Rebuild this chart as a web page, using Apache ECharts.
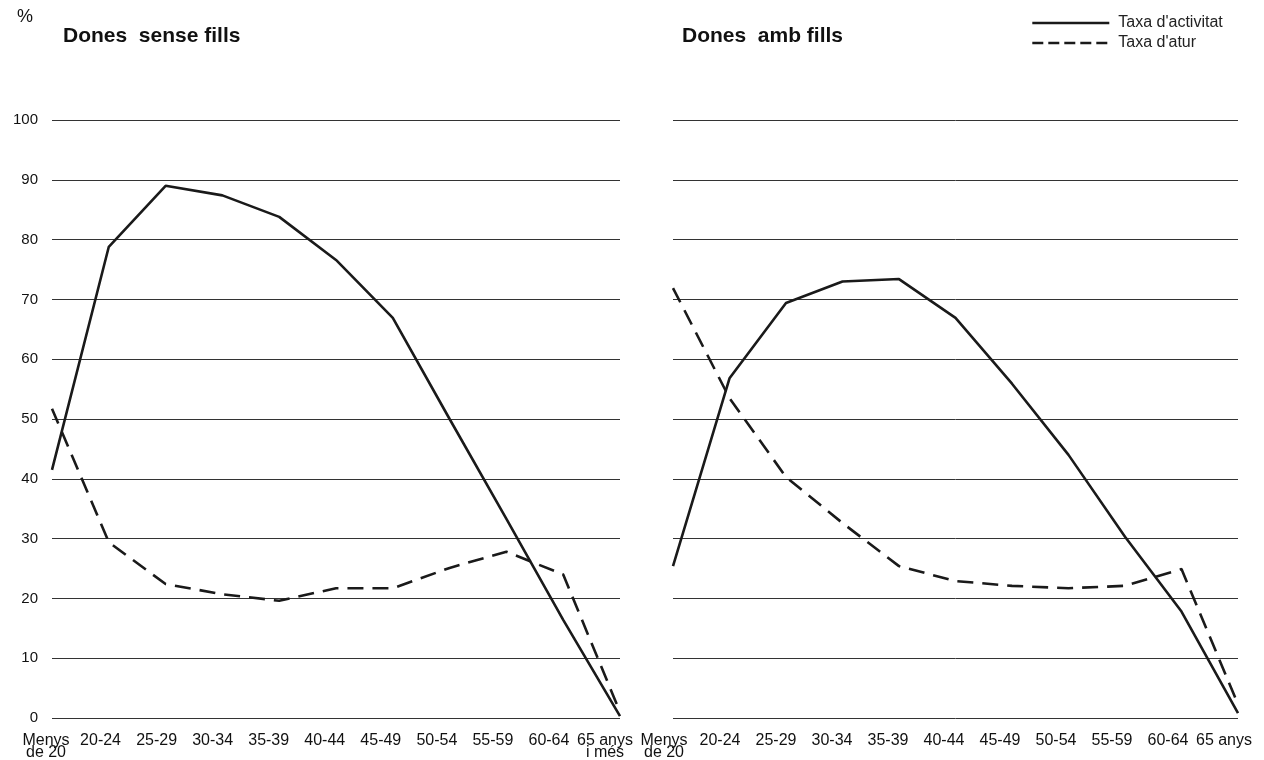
<!DOCTYPE html>
<html><head><meta charset="utf-8">
<script src="https://cdn.jsdelivr.net/npm/echarts@6/dist/echarts.min.js"></script>
<style>html,body{margin:0;padding:0;background:#fff;overflow:hidden}#c{width:1264px;height:760px}</style>
</head><body><div id="c"></div>
<script>
const catsLeft = ['Menys\nde 20','20-24','25-29','30-34','35-39','40-44','45-49','50-54','55-59','60-64','65 anys\ni més'];
const catsRight = ['Menys\nde 20','20-24','25-29','30-34','35-39','40-44','45-49','50-54','55-59','60-64','65 anys'];
const yTicks = [0,10,20,30,40,50,60,70,80,90,100];
const senseActivitat = [41.5,78.8,89.0,87.4,83.8,76.6,66.9,50.0,33.3,16.4,0.3];
const senseAtur = [51.7,29.4,22.4,20.7,19.6,21.7,21.7,25.1,27.8,24.0,1.0];
const ambActivitat = [25.4,56.8,69.4,73.0,73.4,66.9,55.9,44.0,30.3,17.8,0.8];
const ambAtur = [71.9,53.5,40.3,32.6,25.4,22.9,22.1,21.7,22.1,24.9,2.3];
const seriesNames = ["Taxa d'activitat","Taxa d'atur"];

const FONT = '"Liberation Sans", Arial, sans-serif';
const INK = '#1a1a1a';
const chart = echarts.init(document.getElementById('c'), null, {renderer:'canvas'});

// label horizontal offsets (px, negative = left of the data point), layout only
const offLeft = i => i === 0 ? -6 : -7.5 - 0.75 * i;
const offRight = i => -9 - 0.5 * i;
function makeRich(offFn, n) {
  const rich = {};
  for (let i = 0; i < n; i++) {
    rich['p' + i] = {fontSize:16, fontFamily:FONT, color:'#111', lineHeight:12,
                     padding:[0, Math.max(0, -2 * offFn(i)), 0, 0]};
  }
  return rich;
}
function makeXAxis(grid, cats, offFn) {
  return {
    gridIndex:grid, type:'category', boundaryGap:false, data:cats,
    axisLine:{show:false}, axisTick:{show:false},
    axisLabel:{
      interval:0, margin:17, fontSize:16, fontFamily:FONT, color:'#111', lineHeight:12,
      formatter:(v, i) => v.split('\n').map(s => '{p' + i + '|' + s + '}').join('\n'),
      rich:makeRich(offFn, cats.length)
    }
  };
}
const yAxisCommon = {
  type:'value', min:0, max:100, interval:10,
  axisLine:{show:false}, axisTick:{show:false},
  splitLine:{lineStyle:{color:'#333', width:1}}
};
const lineS = (name, data, idx, dashed) => ({
  name, type:'line', xAxisIndex:idx, yAxisIndex:idx, data, symbol:'none', silent:true,
  lineStyle:{color:INK, width:2.6, type: dashed ? [16,9] : 'solid'},
  itemStyle:{color:INK}
});
chart.setOption({
  animation:false,
  title:[
    {text:'%', left:17, top:8, padding:0, textStyle:{fontSize:18, fontWeight:'normal', color:'#111', fontFamily:FONT}},
    {text:'Dones  sense fills', left:63, top:26, padding:0, textStyle:{fontSize:21, fontWeight:'bold', color:'#111', fontFamily:FONT}},
    {text:'Dones  amb fills', left:682, top:26, padding:0, textStyle:{fontSize:21, fontWeight:'bold', color:'#111', fontFamily:FONT}}
  ],
  legend:{
    data:[
      {name:seriesNames[0], lineStyle:{type:'solid', width:2.6}},
      {name:seriesNames[1], lineStyle:{type:[11,5], width:2.6}}
    ],
    orient:'vertical', left:1031, top:15, padding:0, itemWidth:77, itemHeight:14, itemGap:4,
    selectedMode:false,
    itemStyle:{color:'rgba(0,0,0,0)', borderWidth:0, opacity:0},
    textStyle:{fontSize:16, color:'#222', fontFamily:FONT, padding:[0,0,0,4]}
  },
  grid:[
    {left:52, right:644, top:120, bottom:42, outerBoundsMode:'none', containLabel:false},
    {left:673, right:26, top:120, bottom:42, outerBoundsMode:'none', containLabel:false}
  ],
  xAxis:[
    makeXAxis(0, catsLeft, offLeft),
    makeXAxis(1, catsRight, offRight)
  ],
  yAxis:[
    Object.assign({gridIndex:0, axisLabel:{color:'#111', fontSize:15, fontFamily:FONT, margin:14, formatter:v=>yTicks.includes(v)?String(v):''}}, yAxisCommon),
    Object.assign({gridIndex:1, axisLabel:{show:false}}, yAxisCommon)
  ],
  series:[
    lineS(seriesNames[0], senseActivitat, 0, false),
    lineS(seriesNames[1], senseAtur, 0, true),
    lineS(seriesNames[0], ambActivitat, 1, false),
    lineS(seriesNames[1], ambAtur, 1, true)
  ]
});
</script></body></html>
